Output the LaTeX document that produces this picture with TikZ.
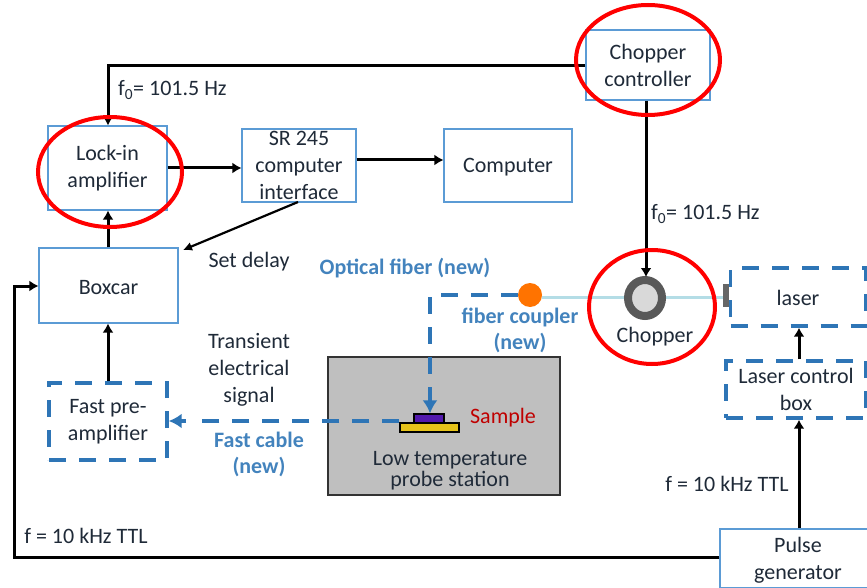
\documentclass[tikz,border=0pt]{standalone}
\usepackage{fontspec}
\setmainfont{Carlito}
\usetikzlibrary{arrows.meta,shapes.geometric,calc}
\definecolor{dblue}{HTML}{2E75B6}
\definecolor{lblue}{HTML}{5B9BD5}
\definecolor{txt}{HTML}{1F2A38}
\definecolor{fiber}{HTML}{B4DDE6}
\newcommand{\dnline}{\rule{0pt}{18pt}}
\tikzset{
 box/.style={draw=lblue,line width=1.1pt,fill=white,inner sep=0pt,align=center,text=txt,execute at begin node=\dnline},
 dbox/.style={draw=dblue,line width=3.4pt,dash pattern=on 17pt off 13pt,inner sep=0pt,align=center,text=txt,execute at begin node=\dnline},
 conn/.style={draw=black,line width=3pt,-{Latex[length=9pt,width=11pt]}},
 redring/.style={draw=red,line width=4pt,fill=none},
 lab/.style={inner sep=0pt,align=center,text=txt},
 bluelab/.style={inner sep=0pt,align=center,text=dblue!90,font=\bfseries\fontsize{22}{26}\selectfont},
 dashline/.style={draw=dblue,line width=3.4pt,dash pattern=on 17pt off 13pt},
}
\begin{document}
\begin{tikzpicture}[x=1pt,y=-1pt,every node/.append style={font=\fontsize{22}{27}\selectfont}]
\useasboundingbox (0,0) rectangle (867,588);
\clip (0,0) rectangle (867,588);
% boxes
\node[box,minimum width=124pt,minimum height=70pt] (ctrl) at (648,65) {Chopper\\controller};
\node[box,minimum width=119pt,minimum height=84pt] (lock) at (107.5,168) {Lock-in\\amplifier};
\node[box,minimum width=114pt,minimum height=73pt] (sr) at (299,165.5) {SR 245\\computer\\interface};
\node[box,minimum width=128pt,minimum height=73pt] (comp) at (508,165.5) {Computer};
\node[box,minimum width=139pt,minimum height=75pt] (boxcar) at (108.5,285.5) {Boxcar};
\node[dbox,minimum width=118pt,minimum height=77pt] (pre) at (108,421.5) {Fast pre-\\amplifier};
\node[draw=black!80,line width=1.5pt,fill=black!25,minimum width=232pt,minimum height=138pt,inner sep=0pt] (probe) at (444,426) {};
\node[dbox,minimum width=135pt,minimum height=58pt] (laser) at (798,297) {laser};
\node[dbox,minimum width=140pt,minimum height=57pt] (lcb) at (796,389.5) {Laser control\\box};
\node[box,minimum width=160pt,minimum height=59pt] (pulse) at (800,558.5) {};
\node[lab] (pulsetxt) at (798,560) {Pulse\\generator};
% sample
\node[draw=black,line width=1.2pt,fill=yellow!70!orange!90!black,minimum width=59pt,minimum height=9pt,inner sep=0pt] (gold) at (429.5,427.5) {};
\node[draw=black,line width=1.2pt,fill=blue!45!violet!80!gray,minimum width=30pt,minimum height=9pt,inner sep=0pt] (purple) at (429,418.5) {};
\node[lab,font=\fontsize{22}{21}\selectfont] (probetxt) at (450,471) {Low temperature\\probe station};
\node[lab,text=red!75!black] (sampletxt) at (503,418) {Sample};
% fiber and optics
\node[draw=none,fill=black!60,minimum width=6pt,minimum height=23pt,inner sep=0pt] (nub) at (726,295) {};
\node[circle,fill=orange!90!red,inner sep=0pt,minimum width=24pt,minimum height=24pt] (coupler) at (530,295) {};
\draw[fiber,line width=3pt] (coupler.east|-0,297) -- (nub.west|-0,297);
\node[draw=black!65,line width=8pt,fill=black!15,ellipse,minimum width=34pt,minimum height=36pt,inner sep=0pt] (wheel) at (645,298) {};
\node[lab] (choptxt) at (655,337) {Chopper};
% dashed fiber
\coordinate (bend) at (430,295);
\coordinate (fiberend) at (purple.north-|bend);
\draw[dashline] (coupler.west) -- (bend) -- ($(fiberend)+(0,-10)$);
\draw[dblue,line width=3.4pt,-{Latex[length=13pt,width=15pt]}] ($(fiberend)+(0,-22)$) -- (fiberend);
% fast cable
\draw[dashline] (gold.west|-0,421) -- (190,421);
\draw[dblue,line width=3.4pt,-{Latex[length=13pt,width=15pt]}] (186,421) -- (pre.east|-0,421);
% connectors
\coordinate (c1) at (108,66);
\draw[conn] (ctrl.west|-0,66) -- (c1) -- (c1|-lock.north);
\draw[conn] (ctrl.south-|646,0) -- (646,277);
\draw[conn] (lock.east|-0,168) -- (sr.west|-0,168);
\draw[conn] (sr.east|-0,160) -- (comp.west|-0,160);
\coordinate (srb) at (298,202);
\coordinate (bxt) at (183,250);
\draw[draw=black,line width=2.2pt,-{Latex[length=9pt,width=9pt]}] (srb) -- (bxt);
\draw[conn] (boxcar.north-|108,0) -- (lock.south-|108,0);
\draw[conn] (pre.north-|108,0) -- (boxcar.south-|108,0);
\coordinate (c2) at (14,557);
\draw[conn] (pulse.west|-c2) -- (c2) -- (14,286) -- (boxcar.west|-0,286);
\draw[conn] (pulse.north-|799,0) -- (lcb.south-|799,0);
\draw[conn] (lcb.north-|799,0) -- (laser.south-|799,0);
% rings
\node[redring,ellipse,minimum width=144pt,minimum height=110pt,inner sep=0pt] (r1) at (648,60) {};
\node[redring,ellipse,minimum width=144pt,minimum height=110pt,inner sep=0pt] (r2) at (110,172) {};
\node[redring,ellipse,minimum width=126pt,minimum height=114pt,inner sep=0pt] (r3) at (652,307) {};
% labels
\node[lab,anchor=west] (f1) at (118,90) {f$_{\mathrm 0}$= 101.5 Hz};
\node[lab,anchor=west] (f2) at (651,214) {f$_{\mathrm 0}$= 101.5 Hz};
\node[lab] (sd) at (249,262) {Set delay};
\node[lab] (tes) at (249,370) {Transient\\electrical\\signal};
\node[bluelab] (of) at (405,268) {Optical fiber (new)};
\node[bluelab] (fc) at (520,330) {fiber coupler\\(new)};
\node[bluelab] (fcab) at (259,454) {Fast cable\\(new)};
\node[lab] (ttl1) at (86,536) {f = 10 kHz TTL};
\node[lab] (ttl2) at (727,484) {f = 10 kHz TTL};
\end{tikzpicture}
\end{document}
